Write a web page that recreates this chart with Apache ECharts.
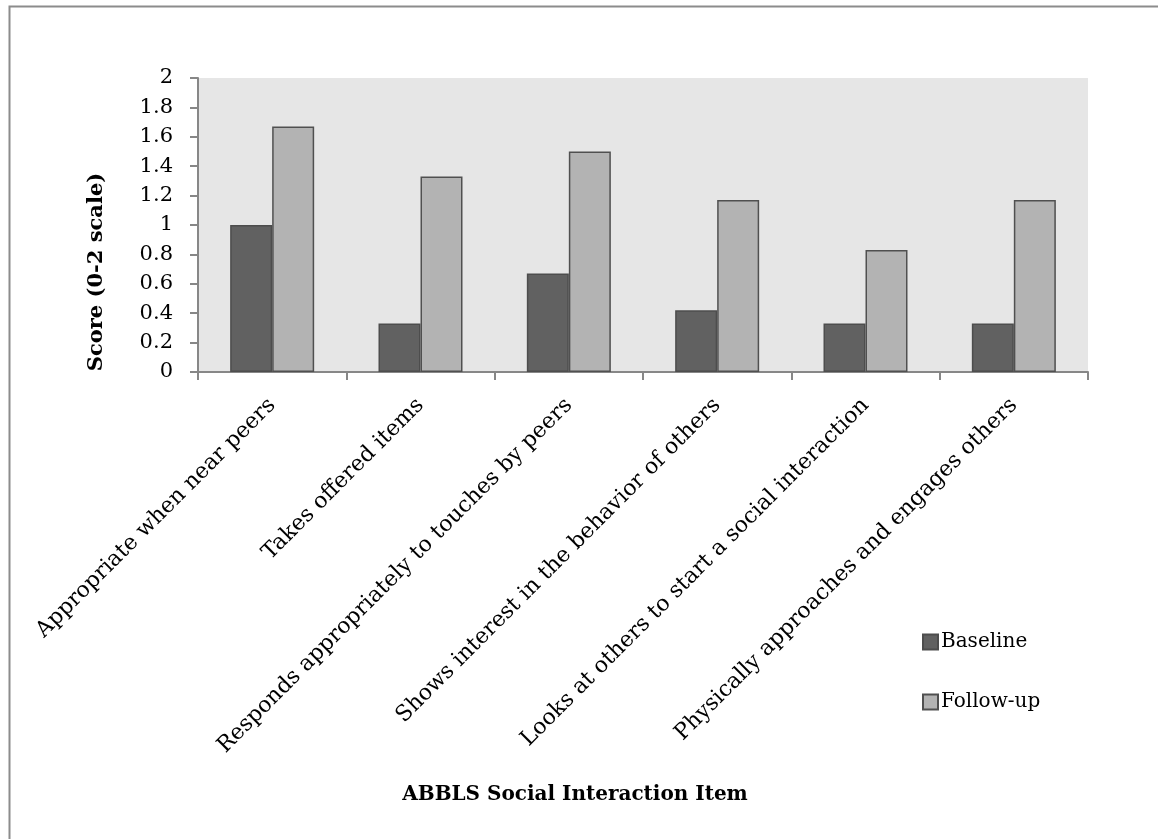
<!DOCTYPE html>
<html>
<head>
<meta charset="utf-8">
<script src="https://cdn.jsdelivr.net/npm/echarts@6/dist/echarts.min.js"></script>
<style>
  html, body { margin: 0; padding: 0; background: #ffffff; }
  #chart { width: 1158px; height: 839px; }
</style>
</head>
<body>
<div id="chart"></div>
<script>
// ABBLS social interaction items
const categories = [
  'Appropriate when near peers',
  'Takes offered items',
  'Responds appropriately to touches by peers',
  'Shows interest in the behavior of others',
  'Looks at others to start a social interaction',
  'Physically approaches and engages others'
];
const baseline = [1.00, 0.33, 0.67, 0.42, 0.33, 0.33];
const followUp = [1.67, 1.33, 1.50, 1.17, 0.83, 1.17];
const seriesNames = ['Baseline', 'Follow-up'];
const yAxisTitle = 'Score (0-2 scale)';
const xAxisTitle = 'ABBLS Social Interaction Item';

const FONT = '"DejaVu Serif", "Liberation Serif", serif';
const AXIS_GRAY = '#878787';

const chart = echarts.init(document.getElementById('chart'), null, { renderer: 'canvas' });

chart.setOption({
  animation: false,
  backgroundColor: '#ffffff',
  textStyle: { fontFamily: FONT, color: '#000' },
  graphic: [
    {
      // chart-area frame
      type: 'rect',
      left: 7, top: 4,
      shape: { x: 0, y: 0, width: 1160, height: 850 },
      style: { fill: 'none', stroke: '#8c8c8c', lineWidth: 2 },
      silent: true
    },
    {
      // vertical axis title
      type: 'text',
      x: 97, y: 272,
      rotation: Math.PI / 2,
      style: {
        text: yAxisTitle,
        font: 'bold 21px ' + FONT,
        fill: '#000',
        align: 'center',
        verticalAlign: 'middle'
      }
    },
    {
      // horizontal axis title
      type: 'text',
      x: 575, y: 795,
      style: {
        text: xAxisTitle,
        font: 'bold 20px ' + FONT,
        fill: '#000',
        align: 'center',
        verticalAlign: 'middle'
      }
    }
  ],
  legend: {
    orient: 'vertical',
    left: 917, top: 627,
    itemWidth: 15, itemHeight: 15,
    itemGap: 40,
    icon: 'rect',
    textStyle: { fontFamily: FONT, fontSize: 20, color: '#000', padding: [0, 0, 0, -2] },
    data: seriesNames
  },
  grid: {
    left: 198, right: 70, top: 78, bottom: 467,
    show: true,
    backgroundColor: '#e6e6e6',
    borderWidth: 0
  },
  xAxis: {
    type: 'category',
    data: categories,
    boundaryGap: true,
    axisLine: { show: true, lineStyle: { color: AXIS_GRAY, width: 2 } },
    axisTick: { show: true, length: 8, alignWithLabel: false, lineStyle: { color: AXIS_GRAY, width: 2 } },
    axisLabel: {
      interval: 0,
      rotate: 45,
      margin: 30,
      fontFamily: FONT,
      fontSize: 22,
      color: '#000'
    }
  },
  yAxis: {
    type: 'value',
    min: 0, max: 2, interval: 0.2,
    splitLine: { show: false },
    axisLine: { show: true, lineStyle: { color: AXIS_GRAY, width: 2 } },
    axisTick: { show: true, length: 8, lineStyle: { color: AXIS_GRAY, width: 2 } },
    axisLabel: {
      margin: 25,
      fontFamily: FONT,
      fontSize: 21,
      color: '#000',
      formatter: v => String(Math.round(v * 10) / 10)
    }
  },
  series: [
    {
      name: seriesNames[0],
      type: 'bar',
      data: baseline,
      barWidth: 42,
      barGap: '0%',
      itemStyle: { color: '#616161', borderColor: '#4d4d4d', borderWidth: 1.5 }
    },
    {
      name: seriesNames[1],
      type: 'bar',
      data: followUp,
      barWidth: 42,
      barGap: '0%',
      itemStyle: { color: '#b3b3b3', borderColor: '#505050', borderWidth: 1.5 }
    }
  ]
});
</script>
</body>
</html>
